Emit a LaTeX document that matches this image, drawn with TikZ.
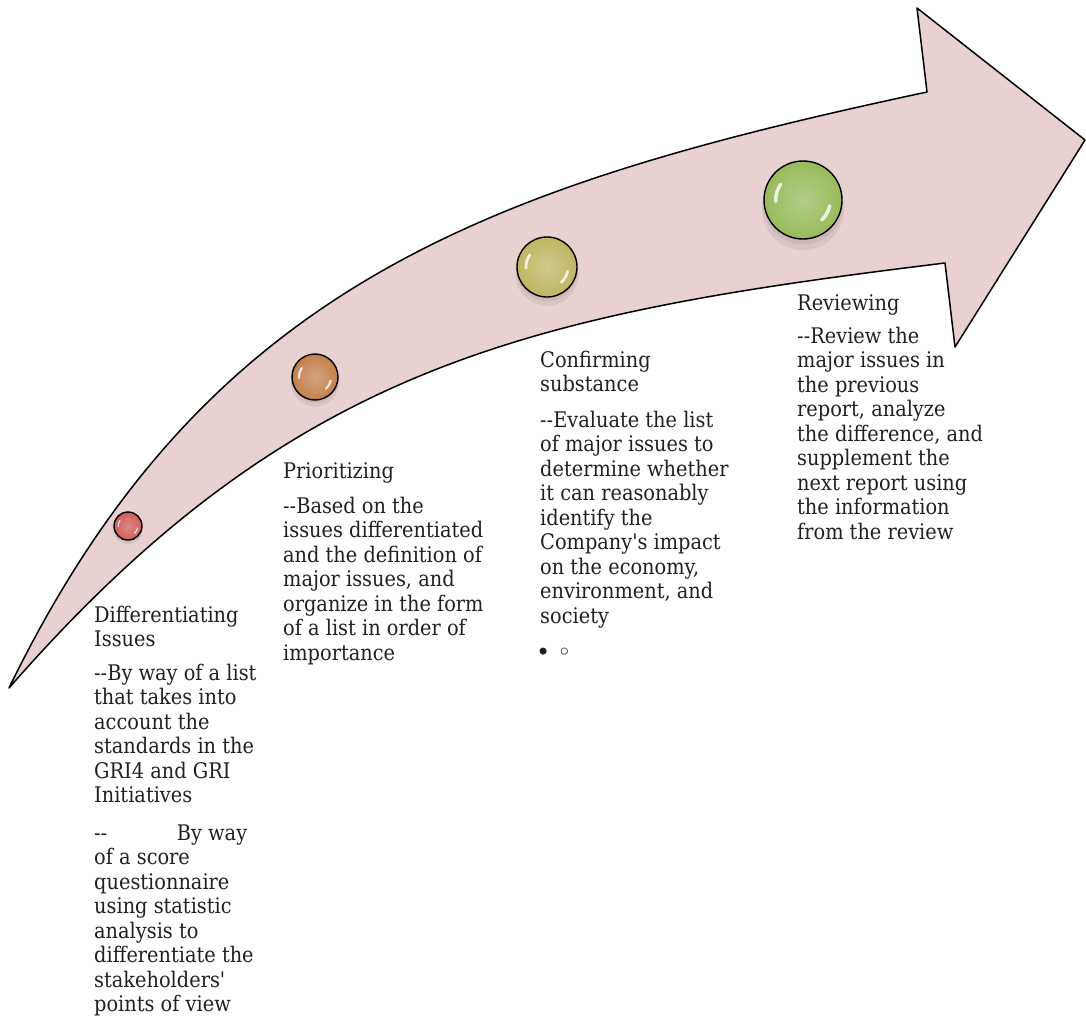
\documentclass[tikz,border=0pt]{standalone}
\usepackage{fontspec}
\setmainfont{DejaVu Serif}[Ligatures=TeXOff, FakeStretch=0.9]
\newfontfamily\bulletfont{DejaVu Sans}
\usetikzlibrary{calc}

\definecolor{bandfill}{RGB}{231,209,209}
\definecolor{inktext}{RGB}{32,32,32}
\definecolor{orbred}{RGB}{208,92,90}
\definecolor{orbamber}{RGB}{196,128,76}
\definecolor{orbolive}{RGB}{190,182,98}
\definecolor{orbgreen}{RGB}{152,186,90}

\tikzset{
  bodytext/.style={anchor=base west, inner sep=0pt,
    font=\fontsize{21.5}{24}\selectfont, text=inktext},
  outline/.style={draw=black, line width=1.5pt, line join=round},
}

\begin{document}
\begin{tikzpicture}[x=1pt,y=-1pt]
\useasboundingbox (0,0) rectangle (1086,1022);

% curved arrow band with its head
\coordinate (tail) at (9,688);
\coordinate (notchtop) at (927,92);
\coordinate (headtop) at (917,8);
\coordinate (headtip) at (1085,140);
\coordinate (headbot) at (955,347);
\coordinate (notchbot) at (945,263);
\path[outline, fill=bandfill]
  (tail) .. controls (205,285) and (487,186) .. (notchtop)
  -- (headtop) -- (headtip) -- (headbot) -- (notchbot)
  .. controls (528,314) and (292,364) .. (tail) -- cycle;

% glossy stage markers along the band
\foreach \nm/\px/\py/\r/\col in {stage1/128/526/14/orbred,
    stage2/315/377/23/orbamber, stage3/547/267/30/orbolive,
    stage4/803/200/39/orbgreen} {
  \fill[black, opacity=0.06] (\px,{\py+0.24*\r}) circle[radius={1.05*\r*1pt}];
  \fill[black, opacity=0.06] (\px,{\py+0.12*\r}) circle[radius={1.02*\r*1pt}];
  \node[circle, draw=black, line width=1.4pt, inner sep=0pt,
        minimum size={2*\r*1pt}, inner color=\col!72!white, outer color=\col]
        (\nm) at (\px,\py) {};
  \draw[white, opacity=0.8, line cap=round, line width={0.09*\r*1pt}]
    (\nm.center) ++(145:{0.7*\r*1pt})
    arc[start angle=145, end angle=183, radius={0.7*\r*1pt}];
  \draw[white, opacity=0.8, line cap=round, line width={0.09*\r*1pt}]
    (\nm.center) ++(-12:{0.7*\r*1pt})
    arc[start angle=-12, end angle=-47, radius={0.7*\r*1pt}];
}

% Differentiating Issues
\foreach \ln [count=\k] in {Differentiating, Issues}
  \node[bodytext] (dT\k) at (94,{622+(\k-1)*24.5}) {\ln};
\foreach \ln [count=\k] in {--By way of a list, that takes into, account the,
    standards in the, GRI4 and GRI, Initiatives}
  \node[bodytext] (dA\k) at (94,{680+(\k-1)*24.5}) {\ln};
\node[bodytext] (dB1) at (94,840) {\makebox[153pt][l]{--\hfill By way}};
\foreach \ln [count=\k from 2] in {of a score, questionnaire, using statistic,
    analysis to, differentiate the, stakeholders', points of view}
  \node[bodytext] (dB\k) at (94,{840+(\k-1)*24.5}) {\ln};

% Prioritizing
\node[bodytext] (pT1) at (283,478) {Prioritizing};
\foreach \ln [count=\k] in {--Based on the, issues differentiated,
    and the definition of, {major issues, and}, organize in the form,
    of a list in order of, importance}
  \node[bodytext] (pA\k) at (283,{513+(\k-1)*24.5}) {\ln};

% Confirming substance
\foreach \ln [count=\k] in {Confirming, substance}
  \node[bodytext] (cT\k) at (540,{367+(\k-1)*24.5}) {\ln};
\foreach \ln [count=\k] in {--Evaluate the list, of major issues to,
    determine whether, it can reasonably, identify the, Company's impact,
    {on the economy,}, {environment, and}, society}
  \node[bodytext] (cA\k) at (540,{427+(\k-1)*24.5}) {\ln};
\node[bodytext, font=\bulletfont\fontsize{24}{26}\selectfont] (cB) at (536,660)
  {•\hspace{7pt}◦};

% Reviewing
\node[bodytext] (rT1) at (797,310) {Reviewing};
\foreach \ln [count=\k] in {--Review the, major issues in, the previous,
    {report, analyze}, {the difference, and}, supplement the,
    next report using, the information, from the review}
  \node[bodytext] (rA\k) at (797,{343+(\k-1)*24.5}) {\ln};
\end{tikzpicture}
\end{document}
